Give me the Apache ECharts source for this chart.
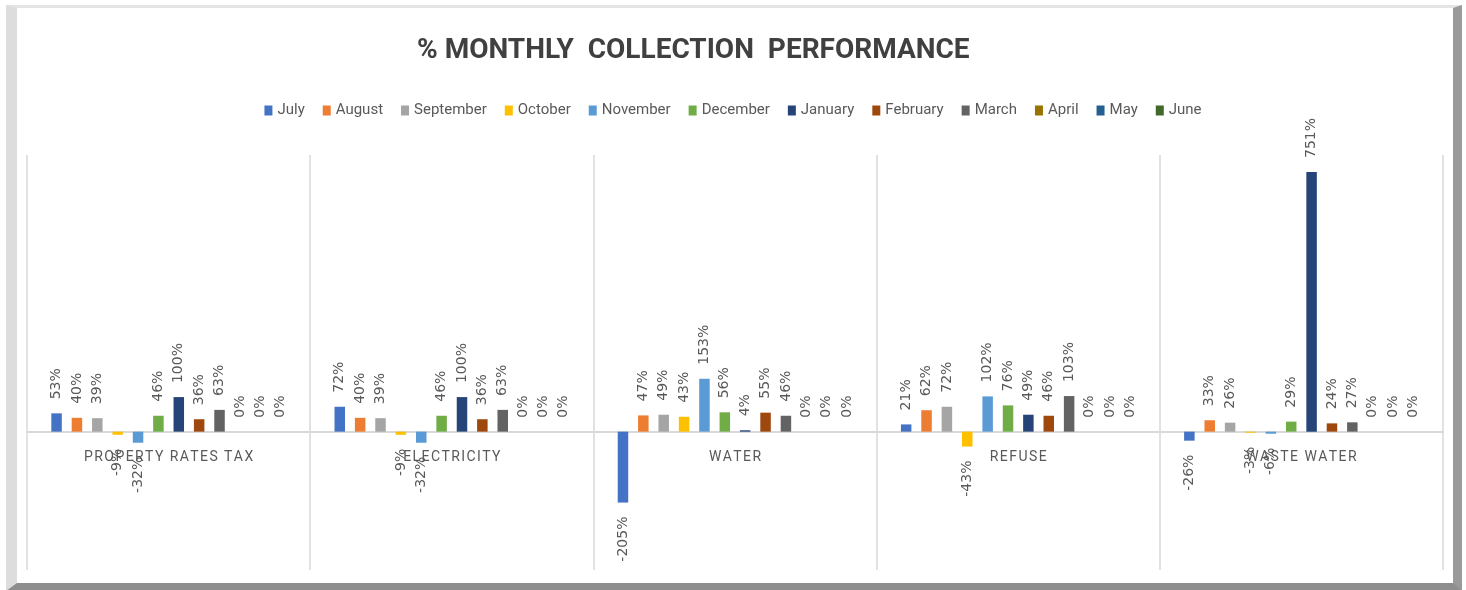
<!DOCTYPE html>
<html>
<head>
<meta charset="utf-8">
<title>% Monthly Collection Performance</title>
<script src="https://cdn.jsdelivr.net/npm/echarts@6/dist/echarts.min.js"></script>
<style>
  html, body { margin: 0; padding: 0; background: #fff; }
  .frame {
    position: absolute; left: 6px; top: 5px; width: 1456px; height: 586px;
    box-sizing: border-box; background: #fff;
    border-left: 11px solid #dddddd; border-top: 3px solid #e4e4e4;
    border-right: 9px solid #9a9a9a; border-bottom: 8px solid #8e8e8e;
  }
  #chart { position: absolute; left: 0; top: 0; width: 1466px; height: 590px; }
</style>
</head>
<body>
<div class="frame"></div>
<div id="chart"></div>
<script>
// categories (revenue streams)
const categories = ['PROPERTY RATES TAX', 'ELECTRICITY', 'WATER', 'REFUSE', 'WASTE WATER'];

// monthly collection performance, in %
const july      = [53, 72, -205, 21, -26];
const august    = [40, 40, 47, 62, 33];
const september = [39, 39, 49, 72, 26];
const october   = [-9, -9, 43, -43, -3];
const november  = [-32, -32, 153, 102, -6];
const december  = [46, 46, 56, 76, 29];
const january   = [100, 100, 4, 49, 751];
const february  = [36, 36, 55, 46, 24];
const march     = [63, 63, 46, 103, 27];
const april     = [0, 0, 0, 0, 0];
const may       = [0, 0, 0, 0, 0];
const june      = [0, 0, 0, 0, 0];

const months = ['July', 'August', 'September', 'October', 'November', 'December',
                'January', 'February', 'March', 'April', 'May', 'June'];
const monthData = [july, august, september, october, november, december,
                   january, february, march, april, may, june];
// Excel office palette
const colors = ['#4472C4', '#ED7D31', '#A5A5A5', '#FFC000', '#5B9BD5', '#70AD47',
                '#264478', '#9E480E', '#636363', '#997300', '#255E91', '#43682B'];

// value axis range (hidden)
const yMin = -400, yMax = 800;
const gridTop = 155, gridBottom = 20, chartHeight = 590;

const chart = echarts.init(document.getElementById('chart'));

// label above bar for positives, below for negatives (rotated, reading upwards)
function toItems(values) {
  return values.map(v => ({
    value: v,
    label: v < 0
      ? { position: 'bottom', align: 'right' }
      : { position: 'top', align: 'left' }
  }));
}

const series = months.map((m, i) => ({
  name: m,
  type: 'bar',
  data: toItems(monthData[i]),
  barWidth: 10.5,
  barGap: '94%',
  itemStyle: { color: colors[i] },
  label: {
    show: true,
    rotate: 90,
    verticalAlign: 'middle',
    distance: 14,
    color: '#595959',
    fontFamily: 'DejaVu Sans',
    fontSize: 14,
    formatter: p => p.value + '%'
  }
}));

// category axis sits on the zero line, labels just below it
const plotH = chartHeight - gridTop - gridBottom;
const zeroOffset = plotH * (0 - yMin) / (yMax - yMin);

const option = {
  backgroundColor: 'transparent',
  color: colors,
  animation: false,
  title: {
    text: '% MONTHLY  COLLECTION  PERFORMANCE',
    left: 412,
    top: 32,
    textStyle: {
      color: '#404040',
      fontFamily: 'Roboto',
      fontWeight: 'bold',
      fontSize: 28
    }
  },
  legend: {
    data: months,
    top: 98,
    left: 'center',
    itemWidth: 8,
    itemHeight: 10,
    itemGap: 18,
    icon: 'rect',
    textStyle: { color: '#595959', fontFamily: 'Roboto', fontSize: 15 }
  },
  grid: { left: 27, right: 23, top: gridTop, bottom: gridBottom, outerBoundsMode: 'none' },
  xAxis: [{
    type: 'category',
    data: categories,
    position: 'bottom',
    offset: -zeroOffset,
    axisLine: { onZero: false, lineStyle: { color: '#d9d9d9', width: 2 } },
    axisTick: { show: false },
    splitLine: { show: false },
    axisLabel: {
      margin: 19,
      color: '#595959',
      fontFamily: 'Roboto',
      fontSize: 14,
      formatter: s => s.split('').join('\u200A')
    }
  }, {
    // only draws the vertical separators between categories
    type: 'category',
    data: categories,
    position: 'top',
    axisLine: { show: false },
    axisTick: { show: false },
    axisLabel: { show: false },
    splitLine: { show: true, lineStyle: { color: '#d9d9d9', width: 1.5 } }
  }],
  yAxis: {
    type: 'value',
    min: yMin,
    max: yMax,
    interval: 200,
    show: false,
    splitLine: { show: false }
  },
  series: series
};

chart.setOption(option);
</script>
</body>
</html>
